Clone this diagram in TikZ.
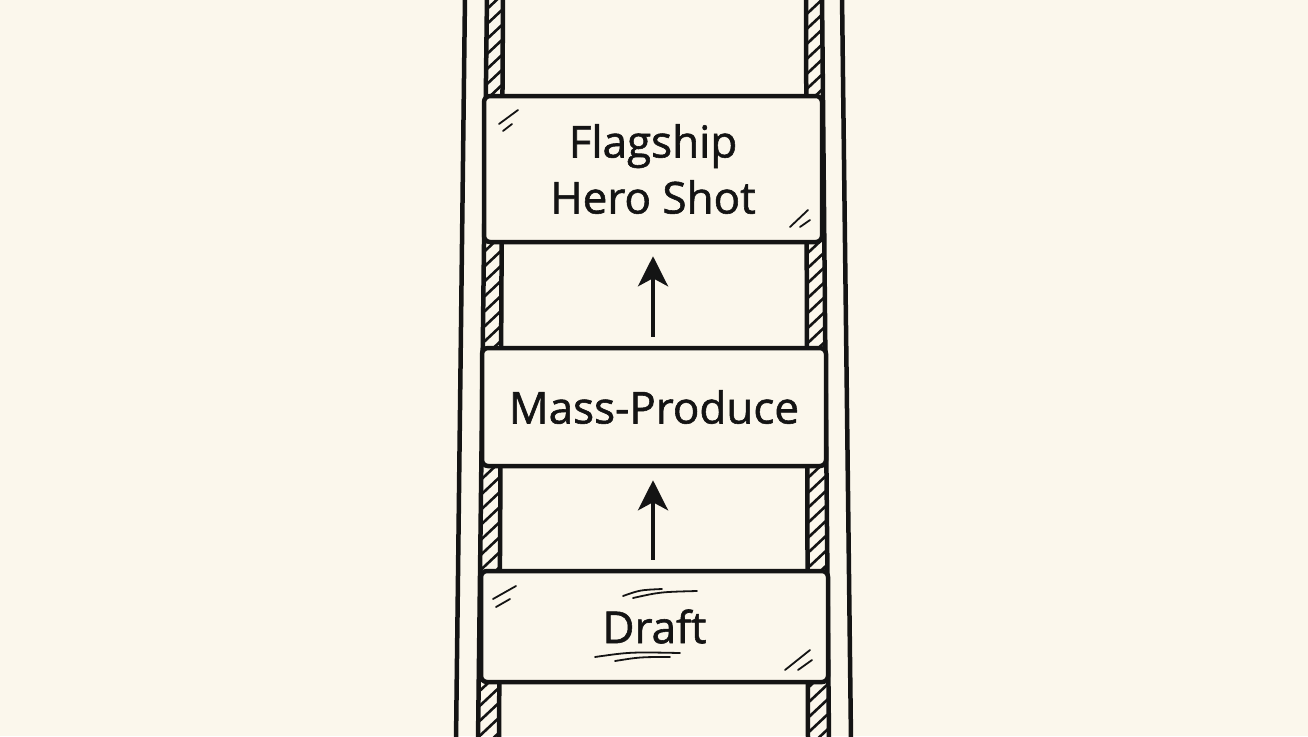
\documentclass[tikz,border=0pt]{standalone}
\usepackage{fontspec}
\setmainfont[FakeBold=1.3]{Open Sans}
\usetikzlibrary{arrows.meta}
\definecolor{bg}{HTML}{FBF7EC}
\definecolor{ink}{HTML}{141414}
\begin{document}
\begin{tikzpicture}[x=1pt,y=-1pt,
  rail/.style={draw=ink,line width=4.5pt},
  hatchline/.style={draw=ink,line width=2.6pt},
  rung/.style={draw=ink,fill=bg,line width=4.5pt,rounded corners=6pt,inner sep=0pt,align=center,
    font=\fontsize{44}{56}\selectfont,text=ink},
  tick/.style={draw=ink,line width=1.8pt,line cap=round},
  up/.style={draw=ink,line width=4pt,-{Stealth[length=30pt,width=30pt,inset=8pt]}}]
\useasboundingbox (0,0) rectangle (1308,736);
\fill[bg] (0,0) rectangle (1308,736);
% hatching in rails
\begin{scope}
  \clip (487,-5) -- (503,-5) -- (499,741) -- (478,741) -- cycle;
  \foreach \y in {-30,-15,...,770} \draw[hatchline] (470,\y+25) -- (520,\y-22);
\end{scope}
\begin{scope}
  \clip (806,-5) -- (822,-5) -- (829,741) -- (808,741) -- cycle;
  \foreach \y in {-30,-15,...,770} \draw[hatchline] (795,\y+25) -- (845,\y-22);
\end{scope}
% rail lines
\draw[rail] (465,-5) -- (456,741);
\draw[rail] (487,-5) -- (478,741);
\draw[rail] (503,-5) -- (499,741);
\draw[rail] (806,-5) -- (808,741);
\draw[rail] (822,-5) -- (829,741);
\draw[rail] (842,-5) -- (851,741);
% rungs
\node[rung,minimum width=338pt,minimum height=146pt] (b1) at (653,169) {Flagship\\Hero Shot};
\node[rung,minimum width=344pt,minimum height=118pt] (b2) at (654,407) {Mass-Produce};
\node[rung,minimum width=347pt,minimum height=111pt] (b3) at (654.5,626.5) {Draft};
% arrows
\draw[up,shorten <=9pt,shorten >=12pt] (b2.north -| 653,0) -- (b1.south -| 653,0);
\draw[up,shorten <=9pt,shorten >=12pt] (b3.north -| 653,0) -- (b2.south -| 653,0);
% corner ticks
\draw[tick] (499,124) -- (518,110);
\draw[tick] (503,131) -- (512,124);
\draw[tick] (790,227) -- (808,210);
\draw[tick] (800,227) -- (810,220);
\draw[tick] (493,599) -- (516,586);
\draw[tick] (496,607) -- (510,599);
\draw[tick] (785,670) -- (810,650);
\draw[tick] (798,670) -- (812,660);
% Draft accents
\draw[tick] (623,596) .. controls (640,590) .. (662,589);
\draw[tick] (633,598) .. controls (660,592) .. (697,591);
\draw[tick] (595,657) .. controls (630,652) .. (680,653);
\draw[tick] (615,661) .. controls (640,657) .. (670,657);
\end{tikzpicture}
\end{document}
